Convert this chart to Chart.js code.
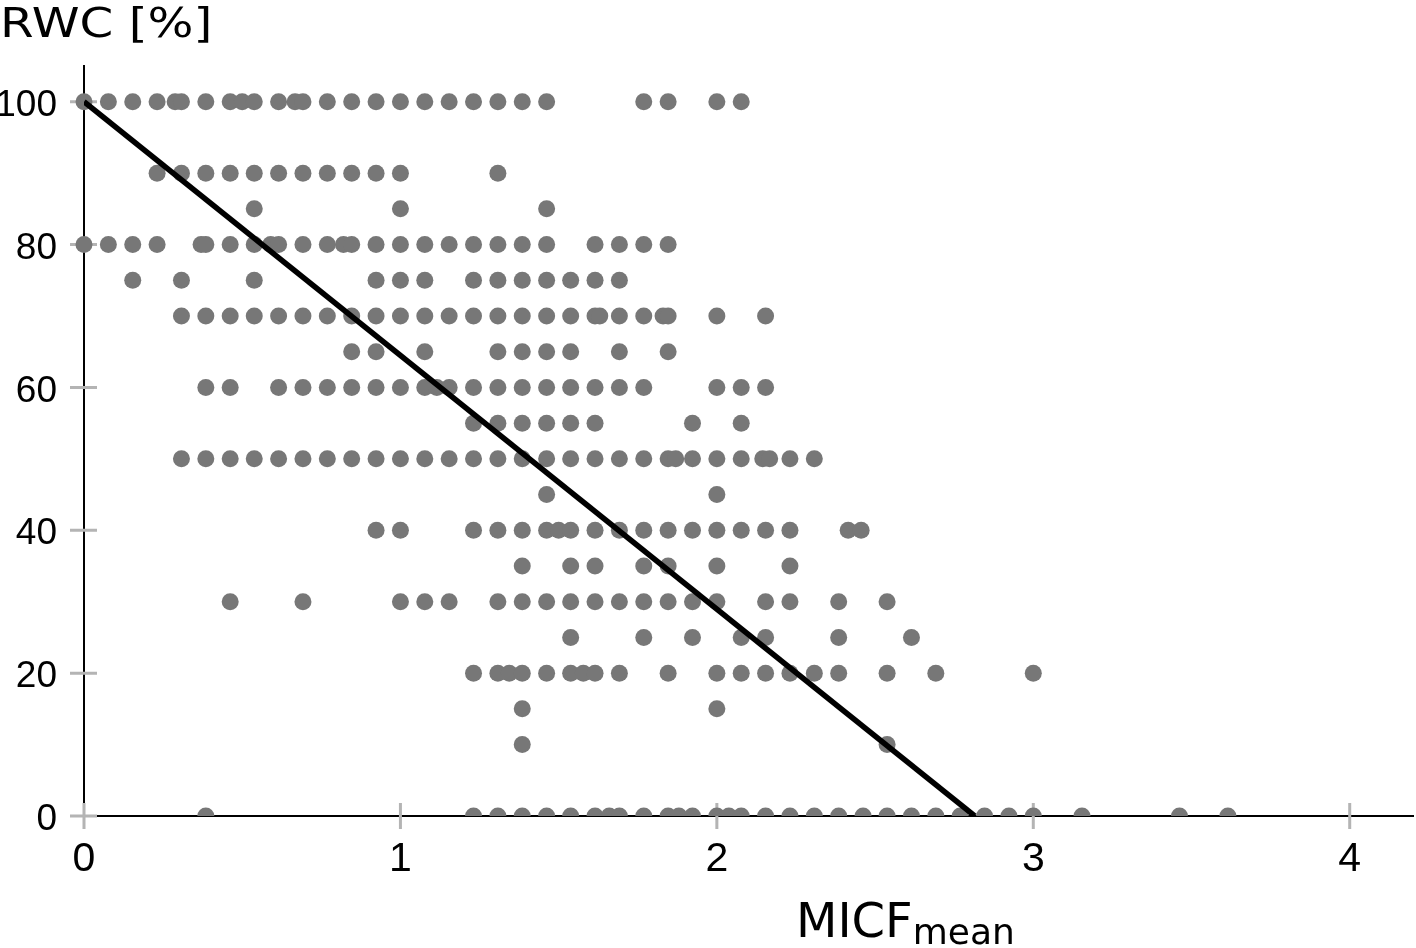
<!DOCTYPE html>
<html>
<head>
<meta charset="utf-8">
<script src="https://cdn.jsdelivr.net/npm/chart.js@4"></script>
<style>
  html, body { margin: 0; padding: 0; background: #fff; }
  #wrap { width: 1416px; height: 948px; position: relative; }
</style>
</head>
<body>
<div id="wrap"><canvas id="chart"></canvas></div>
<script>
// MICF_mean values, one list per RWC level (%)
const rwc100 = [0, 0.077, 0.154, 0.231, 0.288, 0.308, 0.385, 0.462, 0.5, 0.538, 0.615, 0.667, 0.692, 0.769, 0.846, 0.923, 1.0, 1.077, 1.154, 1.231, 1.308, 1.385, 1.462, 1.769, 1.846, 2.0, 2.077];
const rwc90 = [0.231, 0.308, 0.385, 0.462, 0.538, 0.615, 0.692, 0.769, 0.846, 0.923, 1.0, 1.308];
const rwc85 = [0.538, 1.0, 1.462];
const rwc80 = [0, 0.077, 0.154, 0.231, 0.37, 0.385, 0.462, 0.538, 0.59, 0.615, 0.692, 0.769, 0.82, 0.846, 0.923, 1.0, 1.077, 1.154, 1.231, 1.308, 1.385, 1.462, 1.615, 1.692, 1.769, 1.846];
const rwc75 = [0.154, 0.308, 0.538, 0.923, 1.0, 1.077, 1.231, 1.308, 1.385, 1.462, 1.538, 1.615, 1.692];
const rwc70 = [0.308, 0.385, 0.462, 0.538, 0.615, 0.692, 0.769, 0.846, 0.923, 1.0, 1.077, 1.154, 1.231, 1.308, 1.385, 1.462, 1.538, 1.615, 1.63, 1.692, 1.769, 1.83, 1.846, 2.0, 2.154];
const rwc65 = [0.846, 0.923, 1.077, 1.308, 1.385, 1.462, 1.538, 1.692, 1.846];
const rwc60 = [0.385, 0.462, 0.615, 0.692, 0.769, 0.846, 0.923, 1.0, 1.077, 1.115, 1.154, 1.231, 1.308, 1.385, 1.462, 1.538, 1.615, 1.692, 1.769, 2.0, 2.077, 2.154];
const rwc55 = [1.231, 1.308, 1.385, 1.462, 1.538, 1.615, 1.923, 2.077];
const rwc50 = [0.308, 0.385, 0.462, 0.538, 0.615, 0.692, 0.769, 0.846, 0.923, 1.0, 1.077, 1.154, 1.231, 1.308, 1.385, 1.462, 1.538, 1.615, 1.692, 1.769, 1.846, 1.87, 1.923, 2.0, 2.077, 2.145, 2.167, 2.231, 2.308];
const rwc45 = [1.462, 2.0];
const rwc40 = [0.923, 1.0, 1.231, 1.308, 1.385, 1.462, 1.5, 1.538, 1.615, 1.692, 1.769, 1.846, 1.923, 2.0, 2.077, 2.154, 2.231, 2.415, 2.456];
const rwc35 = [1.385, 1.538, 1.615, 1.769, 1.846, 2.0, 2.231];
const rwc30 = [0.462, 0.692, 1.0, 1.077, 1.154, 1.308, 1.385, 1.462, 1.538, 1.615, 1.692, 1.769, 1.846, 1.923, 2.0, 2.154, 2.231, 2.385, 2.538];
const rwc25 = [1.538, 1.769, 1.923, 2.077, 2.154, 2.385, 2.615];
const rwc20 = [1.231, 1.308, 1.344, 1.385, 1.462, 1.538, 1.578, 1.615, 1.692, 1.846, 2.0, 2.077, 2.154, 2.231, 2.308, 2.385, 2.538, 2.692, 3.0];
const rwc15 = [1.385, 2.0];
const rwc10 = [1.385, 2.538];
const rwc0 = [0.385, 1.231, 1.308, 1.385, 1.462, 1.538, 1.615, 1.66, 1.692, 1.769, 1.846, 1.88, 1.923, 2.0, 2.038, 2.077, 2.154, 2.231, 2.308, 2.385, 2.462, 2.538, 2.615, 2.692, 2.769, 2.846, 2.923, 3.0, 3.154, 3.462, 3.615];

// regression line end points
const fitX = [0, 2.815];
const fitY = [100, 0];

const xTicks = [0, 1, 2, 3, 4];
const yTicks = [0, 20, 40, 60, 80, 100];

const levels = [
  [100, rwc100], [90, rwc90], [85, rwc85], [80, rwc80], [75, rwc75], [70, rwc70],
  [65, rwc65], [60, rwc60], [55, rwc55], [50, rwc50], [45, rwc45], [40, rwc40],
  [35, rwc35], [30, rwc30], [25, rwc25], [20, rwc20], [15, rwc15], [10, rwc10], [0, rwc0]
];
const points = [];
levels.forEach(([y, xs]) => xs.forEach(x => points.push({ x: x, y: y })));

const tickFont = "'Liberation Sans', Arial, sans-serif";

// gray tick marks that cross the axes, plus the two axis titles
const axisDecor = {
  id: 'axisDecor',
  beforeDatasetsDraw(chart) {
    const { ctx, chartArea: a, scales } = chart;
    ctx.save();
    ctx.strokeStyle = '#b4b4b4';
    ctx.lineWidth = 3;
    ctx.beginPath();
    xTicks.forEach(v => {
      const px = scales.x.getPixelForValue(v);
      ctx.moveTo(px, a.bottom - 13);
      ctx.lineTo(px, a.bottom + 13);
    });
    yTicks.forEach(v => {
      const py = scales.y.getPixelForValue(v);
      ctx.moveTo(a.left - 14, py);
      ctx.lineTo(a.left + 13, py);
    });
    ctx.stroke();
    ctx.restore();
  },
  afterDraw(chart) {
    const ctx = chart.ctx;
    ctx.save();
    ctx.fillStyle = '#000';
    ctx.textBaseline = 'alphabetic';
    ctx.textAlign = 'left';
    ctx.font = "41px 'DejaVu Sans'";
    ctx.save();
    ctx.translate(0, 37);
    ctx.scale(1.18, 1);
    ctx.fillText('RWC [%]', 0, 0);
    ctx.restore();
    ctx.font = "48px 'DejaVu Sans'";
    ctx.fillText('MICF', 796, 937);
    const w = ctx.measureText('MICF').width;
    ctx.font = "36px 'DejaVu Sans'";
    ctx.fillText('mean', 796 + w, 944);
    ctx.restore();
  }
};

new Chart(document.getElementById('chart'), {
  type: 'scatter',
  data: {
    datasets: [
      {
        type: 'line',
        data: fitX.map((x, i) => ({ x: x, y: fitY[i] })),
        borderColor: '#000',
        borderWidth: 5.5,
        pointRadius: 0,
        fill: false,
        order: 0
      },
      {
        data: points,
        pointRadius: 8.5,
        pointBackgroundColor: '#777777',
        pointBorderWidth: 0,
        clip: { left: false, top: false, right: false, bottom: 0 },
        order: 1
      }
    ]
  },
  options: {
    responsive: true,
    maintainAspectRatio: false,
    animation: false,
    layout: { autoPadding: false, padding: { top: 66, right: 3, left: 0, bottom: 0 } },
    plugins: { legend: { display: false }, tooltip: { enabled: false } },
    scales: {
      x: {
        type: 'linear',
        min: 0,
        max: 4.2,
        afterBuildTicks: s => { s.ticks = xTicks.map(v => ({ value: v })); },
        afterFit: s => { s.height = 132; },
        grid: { display: false, drawTicks: false },
        border: { display: true, color: '#000', width: 2 },
        ticks: { font: { family: tickFont, size: 41 }, color: '#000', padding: 19, maxRotation: 0, autoSkip: false }
      },
      y: {
        type: 'linear',
        min: 0,
        max: 105,
        afterBuildTicks: s => { s.ticks = yTicks.map(v => ({ value: v })); },
        afterFit: s => { s.width = 84; },
        grid: { display: false, drawTicks: false },
        border: { display: true, color: '#000', width: 2 },
        ticks: { font: { family: tickFont, size: 37 }, color: '#000', padding: 27, labelOffset: 4, autoSkip: false }
      }
    }
  },
  plugins: [axisDecor]
});
</script>
</body>
</html>
